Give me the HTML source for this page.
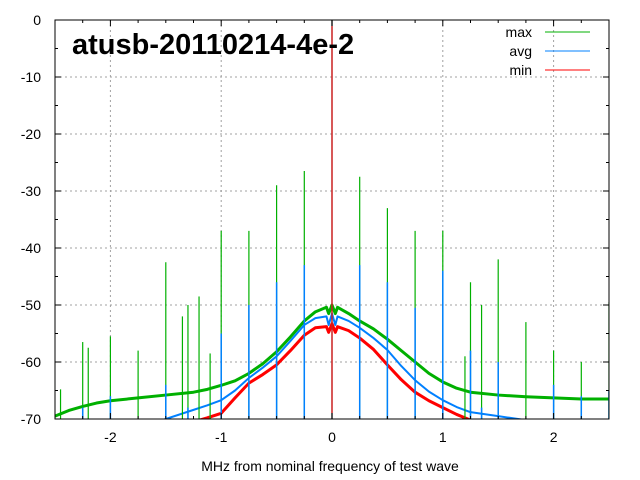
<!DOCTYPE html>
<html><head><meta charset="utf-8"><style>
body{margin:0;background:#fff}
svg{display:block;font-family:"Liberation Sans",sans-serif}
</style></head><body>
<svg id="chart" width="640" height="480" viewBox="0 0 640 480">
<g id="grid"></g>
<g id="series"></g>
<rect x="55" y="20" width="554" height="399" fill="none" stroke="#000" stroke-width="1"/>
<g id="axes"></g>
<text x="72" y="54" font-size="29" font-weight="bold">atusb-20110214-4e-2</text>
<text x="330" y="471" font-size="14" text-anchor="middle">MHz from nominal frequency of test wave</text>
<g font-size="14" text-anchor="end">
<text x="532" y="37">max</text>
<line x1="545" y1="32" x2="590" y2="32" stroke="#00b000" stroke-width="1"/>
<text x="532" y="56">avg</text>
<line x1="545" y1="51" x2="590" y2="51" stroke="#0080ff" stroke-width="1"/>
<text x="532" y="75">min</text>
<line x1="545" y1="70" x2="590" y2="70" stroke="#f00" stroke-width="1"/>
</g>
</svg>
<script>
const freqs = [-2.5,-2.375,-2.25,-2.125,-2,-1.75,-1.5,-1.25,-1.125,-1,-0.875,-0.75,-0.625,-0.5,-0.375,-0.25,-0.15,-0.05,-0.03,0,0.03,0.05,0.15,0.25,0.375,0.5,0.625,0.75,0.875,1,1.125,1.25,1.5,1.75,2,2.25,2.5];
const maxVals = [-69.5,-68.5,-67.8,-67.2,-66.8,-66.3,-65.8,-65.3,-64.8,-64.1,-63.3,-62,-60.3,-58.2,-55.6,-52.8,-51.2,-50.4,-51.5,-50,-51.5,-50.4,-51.5,-52.8,-54.2,-56,-58,-60,-62,-63.5,-64.6,-65.3,-65.8,-66.1,-66.3,-66.5,-66.5];
const avgVals = [-72,-72,-72,-72,-72,-71.5,-70,-68.4,-67.6,-66.7,-65,-62.8,-61,-59,-56.3,-53.5,-52.3,-52,-53.5,-51.5,-53.5,-52,-52.8,-54,-55.8,-57.9,-60.7,-63.2,-65.2,-66.7,-67.9,-68.8,-69.5,-70.2,-71,-72,-72];
const minVals = [-74,-74,-74,-74,-74,-73.5,-72.5,-70.5,-69.8,-69,-66.3,-63.7,-62.2,-60.5,-58,-55.3,-54,-53.8,-54.8,-53.3,-54.8,-53.8,-54.5,-55.8,-57.8,-60.5,-63.1,-65.3,-66.8,-68,-69.2,-70.2,-72,-73,-74,-74,-74];
const spikeFreqs = [-2.45,-2.25,-2.2,-2,-1.75,-1.5,-1.35,-1.3,-1.2,-1.1,-1,-0.75,-0.5,-0.25,0,0.25,0.5,0.75,1,1.2,1.25,1.35,1.5,1.75,2,2.25,2.5];
const spikeMax = [-64.8,-56.5,-57.5,-55.5,-58,-42.5,-52,-50,-48.5,-58.5,-37,-37,-29,-26.5,0,-27.5,-33,-37,-37,-59,-46,-50,-42,-53,-58,-60,-49.5];
const spikeAvg = [-70,-68,-70,-66,-70,-64,-70,-68,-70,-70,-55,-50,-46,-43,0,-43,-46,-50.5,-44,-70,-58,-68,-60,-70,-64,-66,-65];
const xTicks = [-2,-1,0,1,2];
const yTicks = [0,-10,-20,-30,-40,-50,-60,-70];

const NS='http://www.w3.org/2000/svg';
const X0=55,X1=609,Y0=20,Y1=419;
const xs=f=>X0+(f+2.5)/5*(X1-X0);
const ys=v=>Y0+(-v)/70*(Y1-Y0);
const cy=v=>ys(Math.max(-70,Math.min(0,v)));
function mk(tag,attrs,parent){const e=document.createElementNS(NS,tag);for(const k in attrs)e.setAttribute(k,attrs[k]);parent.appendChild(e);return e;}
const grid=document.getElementById('grid'),axes=document.getElementById('axes'),ser=document.getElementById('series');
xTicks.forEach(t=>{
  const g=mk('line',{x1:xs(t),x2:xs(t),y1:Y0,y2:Y1,stroke:'#a0a0a0','stroke-dasharray':'2,3'},grid);
  
  
  const l=mk('text',{x:xs(t),y:442,'font-size':14,'text-anchor':'middle'},axes);
  l.textContent=String(t);
  
  
});
for(let f=-2.5;f<=2.5001;f+=0.25){
  const major=Math.abs(f-Math.round(f))<1e-6;const len=major?6:3;
  mk('line',{x1:xs(f),x2:xs(f),y1:Y1,y2:Y1-len,stroke:'#000'},axes);
  mk('line',{x1:xs(f),x2:xs(f),y1:Y0,y2:Y0+len,stroke:'#000'},axes);
}
yTicks.forEach(t=>{
  if(t<0&&t>-70){
    const g=mk('line',{x1:X0,x2:X1,y1:ys(t),y2:ys(t),stroke:'#a0a0a0','stroke-dasharray':'2,3'},grid);
    
    
  }
  const l=mk('text',{x:41,y:ys(t)+5,'font-size':14,'text-anchor':'end'},axes);
  l.textContent=String(t);
  
  
});
for(let v=0;v>=-70;v-=5){const len=(v%10===0)?6:3;
  mk('line',{x1:X0,x2:X0+len,y1:ys(v),y2:ys(v),stroke:'#000'},axes);
  mk('line',{x1:X1,x2:X1-len,y1:ys(v),y2:ys(v),stroke:'#000'},axes);}
const clip=mk('clipPath',{id:'pc'},ser);mk('rect',{x:X0,y:Y0,width:X1-X0,height:Y1-Y0},clip);
const cg=mk('g',{'clip-path':'url(#pc)'},ser);
function curve(vals,color,w,name){
  const p=mk('polyline',{points:freqs.map((f,i)=>xs(f)+','+ys(vals[i])).join(' '),fill:'none',stroke:color,'stroke-width':w,'stroke-linejoin':'round'},cg);
  
  
}
curve(maxVals,'#00b000',3,'max-curve');
curve(avgVals,'#0080ff',2,'avg-curve');
curve(minVals,'#f00',3,'min-curve');
spikeFreqs.forEach((f,i)=>{
  const s=mk('line',{x1:xs(f),x2:xs(f),y1:Y1,y2:cy(spikeMax[i]),stroke:f===0?'#606060':'#00b000','stroke-width':f===0?1.5:1.2},cg);
  
  
  const a=mk('line',{x1:xs(f),x2:xs(f),y1:Y1,y2:cy(spikeAvg[i]),stroke:f===0?'#f00':'#0080ff','stroke-width':f===0?1:1.5},cg);
  
  
});
</script>
</body></html>
